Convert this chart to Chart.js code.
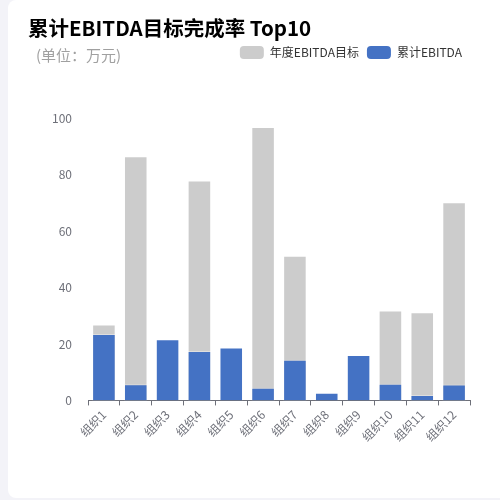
<!DOCTYPE html>
<html>
<head>
<meta charset="utf-8">
<script src="https://cdn.jsdelivr.net/npm/chart.js@4.4.0/dist/chart.umd.min.js"></script>
<style>
  html, body { margin:0; padding:0; width:500px; height:500px; overflow:hidden; background:#f3f3f8; }
  #card { position:absolute; left:8px; top:0; width:500px; height:498px; background:#fff; border-radius:8px; }
  #wrap { position:absolute; left:0; top:0; width:500px; height:500px; }
  #title { position:absolute; left:28px; top:14px; font-family:"Noto Sans CJK SC","Noto Sans",sans-serif; font-weight:bold; font-size:20.5px; color:#000; white-space:nowrap; line-height:26px; }
  #sub { position:absolute; left:36px; top:45px; font-family:"Noto Sans CJK SC","Noto Sans",sans-serif; font-size:15px; color:#a0a0a0; white-space:nowrap; line-height:20px; }
</style>
</head>
<body>
<div id="card"></div>
<div id="wrap"><canvas id="c" width="500" height="500"></canvas></div>
<div id="title">累计EBITDA目标完成率 Top10</div>
<div id="sub">(单位：万元)</div>
<script>
const categories = ['组织1','组织2','组织3','组织4','组织5','组织6','组织7','组织8','组织9','组织10','组织11','组织12'];
const targetValues = [26.9, 86.5, 0, 77.9, 0, 96.8, 51.2, 0, 0, 31.8, 31.2, 70.2];
const actualValues = [23.5, 5.7, 21.7, 17.5, 18.7, 4.5, 14.4, 2.7, 16.1, 5.9, 1.9, 5.6];
const seriesNames = ['年度EBITDA目标', '累计EBITDA'];
const yTicks = [0, 20, 40, 60, 80, 100];

const FONT = '"Noto Sans CJK SC","Noto Sans",sans-serif';

// empty layout box between the legend and the plot area
const spacer = {
  id: 'spacer',
  beforeInit(chart) {
    const box = {
      position: 'top', weight: 0, fullSize: true, options: {},
      width: 0, height: 0, top: 0, left: 0, right: 0, bottom: 0,
      update(maxWidth) { this.width = maxWidth; this.height = 49; },
      isHorizontal() { return true; },
      getPadding() { return { left: 0, right: 0, top: 0, bottom: 0 }; },
      draw() {}
    };
    Chart.layouts.addBox(chart, box);
  }
};

new Chart(document.getElementById('c'), {
  type: 'bar',
  plugins: [spacer],
  data: {
    labels: categories,
    datasets: [
      { label: seriesNames[0], data: targetValues, backgroundColor: '#cccccc', borderColor: 'rgba(255,255,255,0.4)', borderWidth: 1, order: 1, grouped: false },
      { label: seriesNames[1], data: actualValues, backgroundColor: '#4472c4', borderColor: 'rgba(255,255,255,0.35)', borderWidth: 1, order: 0, grouped: false }
    ]
  },
  options: {
    responsive: false,
    animation: false,
    devicePixelRatio: 1,
    layout: { padding: { left: 20, right: 30, top: 38, bottom: 54 } },
    datasets: { bar: { barPercentage: 1, categoryPercentage: 0.74 } },
    plugins: {
      title: { display: false },
      tooltip: { enabled: false },
      legend: {
        display: true,
        position: 'top',
        align: 'end',
        labels: {
          boxWidth: 24,
          boxHeight: 13,
          padding: 8,
          useBorderRadius: true,
          borderRadius: 4,
          color: '#333333',
          font: { family: FONT, size: 12 },
          generateLabels: (chart) => chart.data.datasets.map((ds, i) => ({
            text: ds.label, fillStyle: ds.backgroundColor, strokeStyle: ds.backgroundColor,
            lineWidth: 0, hidden: false, datasetIndex: i, fontColor: '#333333', borderRadius: 4
          }))
        }
      }
    },
    scales: {
      x: {
        grid: { display: true, drawOnChartArea: false, drawTicks: true, tickLength: 5, color: '#6e7079', offset: true },
        border: { display: true, color: '#6e7079', width: 1 },
        ticks: { color: '#6e7079', font: { family: FONT, size: 12 }, maxRotation: 45, minRotation: 45, padding: 2, autoSkip: false }
      },
      y: {
        min: 0, max: 100,
        afterFit: (s) => { s.width = 68; },
        afterBuildTicks: (s) => { s.ticks = yTicks.map(v => ({ value: v })); },
        grid: { display: false },
        border: { display: false },
        ticks: { color: '#6e7079', font: { family: FONT, size: 12 }, padding: 8 }
      }
    }
  }
});
</script>
</body>
</html>
